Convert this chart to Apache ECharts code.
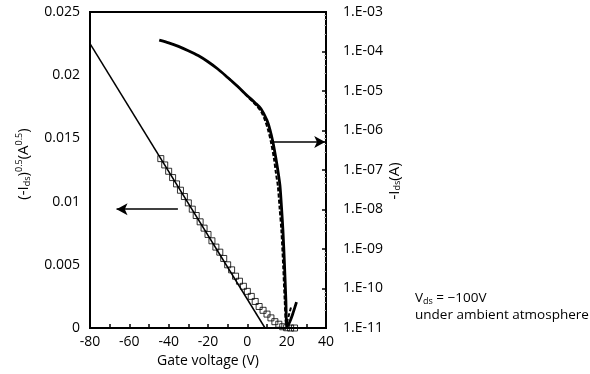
<!DOCTYPE html>
<html><head><meta charset="utf-8">
<script src="https://cdn.jsdelivr.net/npm/echarts@6/dist/echarts.min.js"></script>
<style>html,body{margin:0;padding:0;background:#fff}#c{width:590px;height:374px}</style>
</head><body><div id="c"></div>
<script>
// Gate voltage (V) and -Ids (A), solid curve
const solidV = [-44.8,-40,-35,-30,-25,-20,-15,-10,-5,0,4,7,10,11.5,13,14.5,15.8,16.6,17.4,18.1,18.9,19.6,20.2,21.5,23,25];
const solidI = [1.95e-4,1.66e-4,1.35e-4,1.05e-4,7.9e-5,5.5e-5,3.6e-5,2.2e-5,1.32e-5,7.6e-6,5.0e-6,3.5e-6,1.8e-6,1.05e-6,5.1e-7,2.0e-7,7.9e-8,4.0e-8,1.1e-8,3.0e-9,4.0e-10,5.1e-11,1.07e-11,1.4e-11,2.2e-11,4.5e-11];
// dashed curve
const dashV = [-10,-5,0,4,7,9,10.5,12,13.5,14.6,15.5,16.4,17.3,18.2,19,19.8,21,22.3];
const dashI = [2.2e-5,1.32e-5,7.3e-6,4.6e-6,3.0e-6,1.8e-6,1.05e-6,5.1e-7,2.0e-7,7.9e-8,4.0e-8,1.1e-8,3.0e-9,4.0e-10,5.1e-11,1.26e-11,2.0e-11,3.5e-11];
// sqrt(-Ids) markers
const sqV = [-44,-42,-40,-38,-36,-34,-32,-30,-28,-26,-24,-22,-20,-18,-16,-14,-12,-10,-8,-6,-4,-2,0,2,4,6,8,10,12,14,16,18,20,22,24];
const sqI = [0.0134,0.0129,0.0124,0.0119,0.0114,0.0109,0.0104,0.0099,0.0094,0.0089,0.0084,0.0079,0.0074,0.0069,0.0064,0.0060,0.0055,0.0050,0.0046,0.0041,0.0037,0.0033,0.0029,0.0025,0.0021,0.0017,0.0014,0.0011,0.0008,0.0005,0.0003,0.0001,0.00002,0,0];
// linear fit
const fitV = [-80, 9];
const fitY = [0.0225, 0];

const zip = (a, b) => a.map((v, i) => [v, b[i]]);
const F = '"Open Sans", sans-serif';
const FS = 14;
const chart = echarts.init(document.getElementById('c'));
chart.setOption({
  animation: false,
  backgroundColor: '#fff',
  textStyle: {fontFamily: F, color: '#000'},
  grid: {left: 90, right: 264, top: 12, bottom: 46, show: true, borderColor: '#000', borderWidth: 2},
  xAxis: {
    type: 'value', min: -80, max: 40, interval: 10,
    axisLine: {onZero: false, lineStyle: {color: '#000', width: 2}},
    axisTick: {inside: true, length: 4, lineStyle: {color: '#000', width: 1.5}},
    axisLabel: {color: '#000', fontSize: FS, fontFamily: F, margin: 7,
      formatter: v => (v % 20 === 0 ? String(v) : '')},
    splitLine: {show: false},
    name: 'Gate voltage (V)', nameLocation: 'middle', nameGap: 21,
    nameTextStyle: {fontSize: FS, fontFamily: F, color: '#000'}
  },
  yAxis: [{
    type: 'value', min: 0, max: 0.025, interval: 0.005,
    axisLine: {onZero: false, lineStyle: {color: '#000', width: 2}},
    axisTick: {show: false},
    axisLabel: {color: '#000', fontSize: FS, fontFamily: F, margin: 10},
    splitLine: {show: false},
    name: '{n|(-I}{s|ds}{n|)}{p|0.5}{n|(A}{p|0.5}{n|)}', nameLocation: 'middle', nameRotate: 90, nameGap: 58,
    nameTextStyle: {fontFamily: F, color: '#000', padding: [0, 0, 0, 12],
      rich: {
        n: {fontSize: 15, fontFamily: F, color: '#000'},
        s: {fontSize: 9, fontFamily: F, color: '#000', padding: [7, 0, 0, 0]},
        p: {fontSize: 9, fontFamily: F, color: '#000', padding: [0, 0, 8, 0]}
      }}
  }, {
    type: 'log', logBase: 10, min: 1e-11, max: 1e-3, position: 'right',
    axisLine: {onZero: false, lineStyle: {color: '#000', width: 2}},
    axisTick: {inside: true, length: 4, lineStyle: {color: '#000', width: 1.5}},
    minorTick: {show: true, splitNumber: 5, length: 2, lineStyle: {color: '#bbb'}},
    axisLabel: {color: '#000', fontSize: FS, fontFamily: F, margin: 17,
      formatter: v => '1.E-' + String(-Math.round(Math.log10(v))).padStart(2, '0')},
    splitLine: {show: false},
    name: '{n|-I}{s|ds}{n|(A)}', nameLocation: 'middle', nameRotate: 90, nameGap: 32,
    nameTextStyle: {fontFamily: F, color: '#000', padding: [0, 22, 0, 0],
      rich: {
        n: {fontSize: 15, fontFamily: F, color: '#000'},
        s: {fontSize: 9, fontFamily: F, color: '#000', padding: [7, 0, 0, 0]}
      }}
  }],
  graphic: [{
    type: 'text', left: 415, top: 291,
    style: {text: '{n|V}{s|ds}{n| = −100V}', fill: '#000', font: '13.5px ' + F,
      rich: {n: {fontSize: 13.5, fontFamily: F, fill: '#000'}, s: {fontSize: 9, fontFamily: F, fill: '#000', padding: [6, 0, 0, 0]}}}
  }, {
    type: 'text', left: 415, top: 308,
    style: {text: 'under ambient atmosphere', fill: '#000', font: '13.5px ' + F}
  }],
  series: [{
    type: 'line', data: zip(fitV, fitY), yAxisIndex: 0, symbol: 'none',
    lineStyle: {color: '#000', width: 1.5}, z: 2,
    markLine: {silent: true, symbol: ['none', 'arrow'], symbolSize: [9, 11], label: {show: false},
      lineStyle: {color: '#000', width: 1.5, type: 'solid'},
      data: [[{coord: [-35.3, 0.0094]}, {coord: [-66.5, 0.0094]}]]}
  }, {
    type: 'line', data: zip(dashV, dashI), yAxisIndex: 1, symbol: 'none', smooth: 0.3,
    lineStyle: {color: '#000', width: 2, type: [4, 2]}, z: 3
  }, {
    type: 'line', data: zip(solidV, solidI), yAxisIndex: 1, symbol: 'none', smooth: 0.3,
    lineStyle: {color: '#000', width: 2.8}, z: 4,
    markLine: {silent: true, symbol: ['none', 'arrow'], symbolSize: [9, 11], label: {show: false},
      lineStyle: {color: '#000', width: 1.5, type: 'solid'},
      data: [[{coord: [12.5, 5.1e-7]}, {coord: [39.6, 5.1e-7]}]]}
  }, {
    type: 'scatter', data: zip(sqV, sqI), yAxisIndex: 0, symbol: 'rect', symbolSize: 6,
    itemStyle: {color: 'rgba(255,255,255,0)', borderColor: '#000', borderWidth: 1}, z: 5
  }]
});
</script></body></html>
